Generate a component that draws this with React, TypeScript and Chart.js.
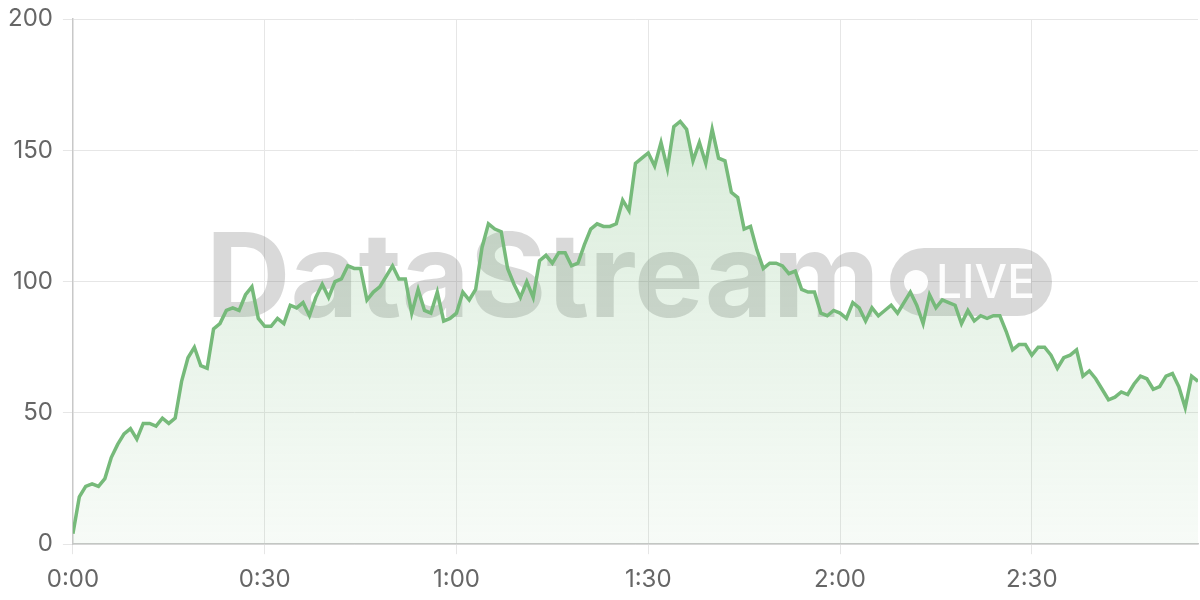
import React, { useEffect, useRef } from "react";
import { Chart, registerables } from "chart.js";

Chart.register(...registerables);

const values: number[] = [
  4, 18, 22, 23, 22, 25, 33, 38, 42, 44,
  40, 46, 46, 45, 48, 46, 48, 62, 71, 75,
  68, 67, 82, 84, 89, 90, 89, 95, 98, 86,
  83, 83, 86, 84, 91, 90, 92, 87, 94, 99,
  94, 100, 101, 106, 105, 105, 93, 96, 98, 102,
  106, 101, 101, 88, 97, 89, 88, 96, 85, 86,
  88, 96, 93, 97, 113, 122, 120, 119, 105, 99,
  94, 100, 94, 108, 110, 107, 111, 111, 106, 107,
  114, 120, 122, 121, 121, 122, 131, 127, 145, 147,
  149, 144, 153, 143, 159, 161, 158, 146, 153, 145,
  158, 147, 146, 134, 132, 120, 121, 112, 105, 107,
  107, 106, 103, 104, 97, 96, 96, 88, 87, 89,
  88, 86, 92, 90, 85, 90, 87, 89, 91, 88,
  92, 96, 91, 84, 95, 90, 93, 92, 91, 84,
  89, 85, 87, 86, 87, 87, 81, 74, 76, 76,
  72, 75, 75, 72, 67, 71, 72, 74, 64, 66,
  63, 59, 55, 56, 58, 57, 61, 64, 63, 59,
  60, 64, 65, 60, 52, 64, 62,
];

const tickMinutes: number[] = [0, 30, 60, 90, 120, 150];
const tickLabels: string[] = ["0:00", "0:30", "1:00", "1:30", "2:00", "2:30"];
const yTicks: number[] = [0, 50, 100, 150, 200];

const LINE = "rgb(118,186,122)";
const FONT = "Inter, 'Noto Sans', sans-serif";

const watermark = {
  id: "watermark",
  beforeDatasetsDraw(chart: any) {
    const ctx = chart.ctx;
    ctx.save();
    ctx.fillStyle = "rgba(110,110,110,0.26)";
    ctx.font = `bold 117px ${FONT}`;
    ctx.textBaseline = "alphabetic";
    ctx.textAlign = "left";
    ctx.fillText("DataStream", 206, 317);
    // pill
    const x = 890, y = 248, w = 162, h = 68, r = 34;
    ctx.beginPath();
    ctx.moveTo(x + r, y);
    ctx.lineTo(x + w - r, y);
    ctx.arc(x + w - r, y + r, r, -Math.PI / 2, Math.PI / 2);
    ctx.lineTo(x + r, y + h);
    ctx.arc(x + r, y + r, r, Math.PI / 2, (Math.PI * 3) / 2);
    ctx.closePath();
    ctx.fill();
    ctx.fillStyle = "rgba(255,255,255,0.95)";
    ctx.beginPath();
    ctx.arc(916, 282, 12, 0, Math.PI * 2);
    ctx.fill();
    ctx.font = `500 46px ${FONT}`;
    ctx.fillText("LIVE", 936, 298);
    ctx.restore();
  },
};

export default function App() {
  const ref = useRef<HTMLCanvasElement | null>(null);

  useEffect(() => {
    if (!ref.current) return;
    const points = values.map((v, i) => ({ x: i, y: v }));
    const chart = new Chart(ref.current, {
      type: "line",
      data: {
        datasets: [
          {
            data: points,
            borderColor: LINE,
            borderWidth: 3.5,
            pointRadius: 0,
            tension: 0,
            fill: "origin",
            backgroundColor: (c: any) => {
              const area = c.chart.chartArea;
              if (!area) return "rgba(118,186,122,0.15)";
              const g = c.chart.ctx.createLinearGradient(0, area.top, 0, area.bottom);
              g.addColorStop(0, "rgba(118,186,122,0.32)");
              g.addColorStop(1, "rgba(118,186,122,0.06)");
              return g;
            },
          },
        ],
      },
      options: {
        animation: false,
        responsive: false,
        layout: { padding: { top: 1, right: 2, left: -2, bottom: -5 } },
        plugins: { legend: { display: false }, tooltip: { enabled: false } },
        scales: {
          x: {
            type: "linear",
            min: 0,
            max: values.length - 1,
            afterBuildTicks: (s: any) => {
              s.ticks = tickMinutes.map((v) => ({ value: v }));
            },
            ticks: {
              color: "#666",
              font: { size: 24, family: FONT },
              padding: 11,
              maxRotation: 0,
              callback: (v: any) => {
                const i = tickMinutes.indexOf(Number(v));
                return i >= 0 ? tickLabels[i] : "";
              },
            },
            grid: { color: "#e6e6e6", tickLength: 10, lineWidth: 1 },
            border: { color: "#c8c8c8", width: 1.5 },
          },
          y: {
            min: 0,
            max: 200,
            afterBuildTicks: (s: any) => {
              s.ticks = yTicks.map((v) => ({ value: v }));
            },
            afterFit: (s: any) => {
              s.paddingTop = 19;
            },
            ticks: {
              color: "#666",
              font: { size: 24, family: FONT },
              padding: 10,
            },
            grid: { color: "#e6e6e6", tickLength: 10, lineWidth: 1 },
            border: { color: "#c8c8c8", width: 1.5 },
          },
        },
      },
      plugins: [watermark],
    });
    return () => chart.destroy();
  }, []);

  return (
    <div style={{ position: "absolute", left: 0, top: 0, width: 1200, height: 600, background: "#fff" }}>
      <canvas ref={ref} width={1200} height={600} />
    </div>
  );
}
